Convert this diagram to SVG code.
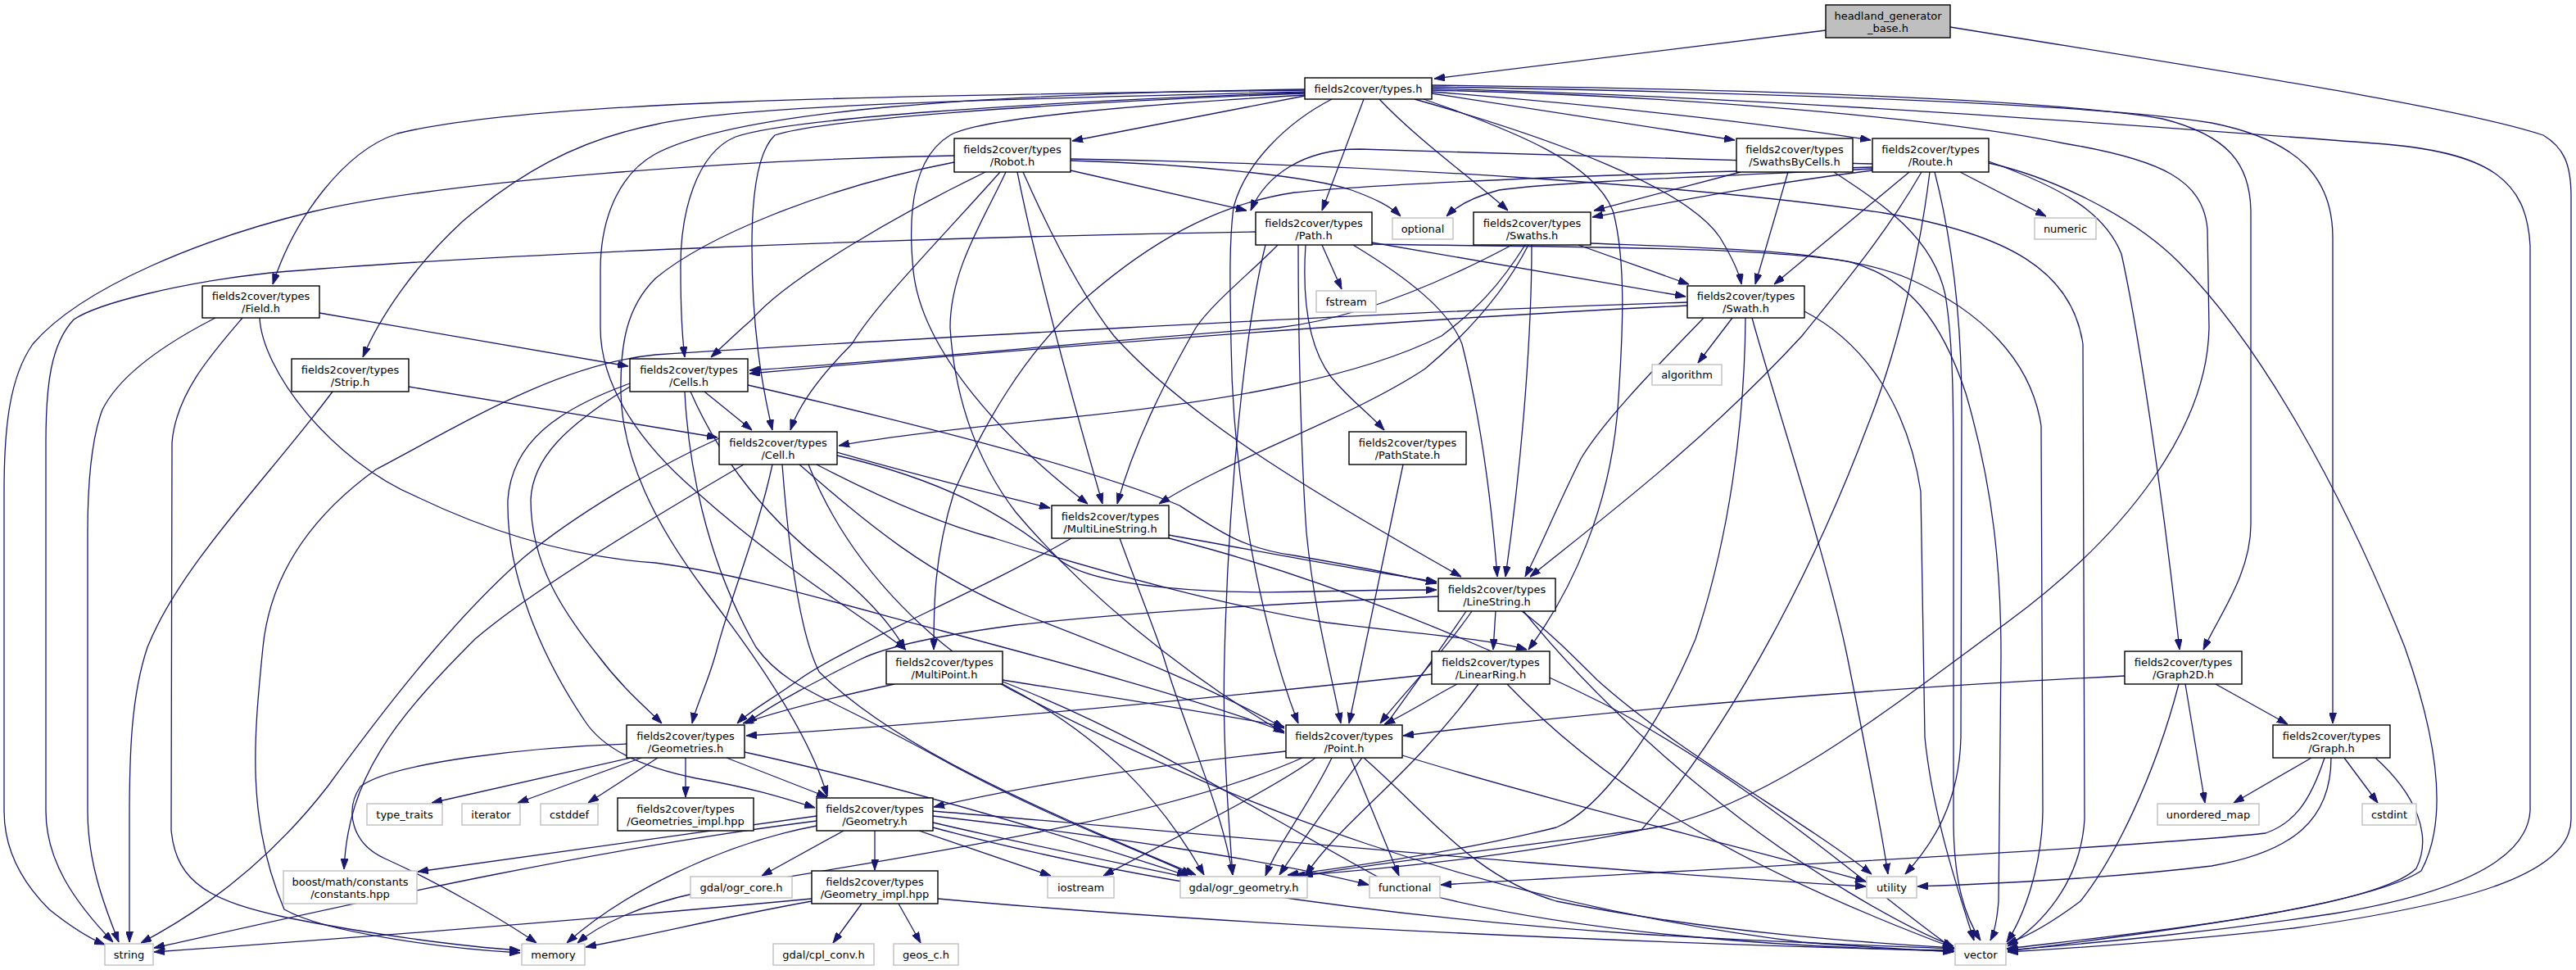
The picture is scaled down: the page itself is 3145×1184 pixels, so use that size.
<svg xmlns="http://www.w3.org/2000/svg" width="3145" height="1184" viewBox="0 0 3145 1184">
<defs>
<marker id="a" markerWidth="13" markerHeight="9" refX="13" refY="4.5" orient="auto" markerUnits="userSpaceOnUse"><path d="M0,0 L13,4.5 L0,9 z" fill="#191970" stroke="#191970" stroke-width="1"/></marker>
<style>
.n rect{fill:#ffffff;stroke:#000000;stroke-width:1.4}
.x rect{fill:#ffffff;stroke:#bfbfbf;stroke-width:1.4}
.h rect{fill:#bfbfbf;stroke:#000000;stroke-width:1.4}
text{font-family:"DejaVu Sans","Liberation Sans",sans-serif;font-size:13px;fill:#000000;text-anchor:middle}
#edges path{fill:none;stroke:#191970;stroke-width:1.3;marker-end:url(#a)}
</style>
</defs>
<rect width="3145" height="1184" fill="#ffffff"/>
<g id="edges">
<path d="M2229,37 L1751,96"/>
<path d="M2381,33 C2700,85 3000,130 3105,165 C3130,180 3139,200 3139,240 L3139,1000 C3139,1070 3000,1105 2800,1133 C2650,1150 2520,1158 2451,1162"/>
<path d="M1593,110 C1100,117 650,122 485,163 C420,185 360,265 333,347"/>
<path d="M1593,112 C1250,120 900,128 800,152 C700,172 630,215 565,270 C505,325 462,390 443,436"/>
<path d="M1593,113 C1250,125 960,145 898,167 C850,187 830,260 831,330 C831,385 833,412 836,436"/>
<path d="M1593,114 C1250,127 1000,147 946,165 C925,185 918,240 918,300 C918,400 930,470 943,525"/>
<path d="M1593,116 C1350,130 1190,147 1160,165 C1115,192 1108,260 1115,330 C1125,430 1230,540 1328,615"/>
<path d="M1593,109 C1200,114 900,135 800,188 C760,210 733,260 733,330 L733,400 C733,470 780,540 850,600 C950,690 1050,750 1106,793"/>
<path d="M1593,117 L1309,172"/>
<path d="M1665,121 L1614,257"/>
<path d="M1626,121 C1570,150 1520,200 1506,253 C1500,300 1502,360 1503,420 C1505,600 1545,780 1585,883"/>
<path d="M1684,121 C1730,170 1800,220 1841,257"/>
<path d="M1727,121 C1900,170 2060,230 2100,290 C2118,320 2124,335 2126,347"/>
<path d="M1738,121 C1850,160 1950,200 1970,260 C1985,320 1982,400 1975,500 C1965,620 1920,720 1866,793"/>
<path d="M1748,114 L2118,171"/>
<path d="M1748,112 C1950,128 2150,150 2284,171"/>
<path d="M1748,104 C2100,108 2500,120 2640,145 C2720,165 2748,200 2748,260 L2748,640 C2748,700 2710,750 2690,793"/>
<path d="M1748,106 C2100,112 2550,125 2700,150 C2810,172 2848,220 2848,290 L2848,883"/>
<path d="M1748,108 C2200,120 2700,160 2900,175 C3040,185 3085,220 3089,300 L3089,990 C3085,1050 3000,1090 2850,1115 C2650,1145 2500,1155 2451,1160"/>
<path d="M1748,110 C2100,118 2400,150 2520,175 C2640,195 2690,220 2695,280 L2697,400 C2695,520 2600,650 2450,760 C2300,870 2150,990 2010,1012 C1800,1040 1650,1058 1590,1069"/>
<path d="M1307,208 L1522,257"/>
<path d="M1307,196 C1450,200 1600,215 1650,232 C1680,243 1698,252 1710,264"/>
<path d="M1203,210 C1100,260 960,340 918,390 C895,410 880,425 868,436"/>
<path d="M1221,210 C1150,290 1070,370 1040,420 C1000,460 975,495 965,525"/>
<path d="M1242,210 C1260,300 1290,420 1346,615"/>
<path d="M1249,210 C1280,280 1320,360 1360,410 C1450,510 1600,600 1784,704"/>
<path d="M1228,210 C1200,270 1160,330 1160,400 C1165,480 1190,560 1240,625 C1320,720 1440,820 1568,895"/>
<path d="M1165,190 C900,195 550,220 383,258 C250,290 100,350 40,420 C12,460 5,520 5,600 L5,990 C5,1040 30,1080 60,1110 C85,1130 108,1145 128,1153"/>
<path d="M1307,194 C1700,200 2100,230 2300,260 C2450,285 2530,330 2543,420 L2545,1000 C2540,1080 2490,1130 2451,1155"/>
<path d="M1165,198 C1000,230 860,290 800,340 C765,375 757,420 758,480 C760,560 800,640 860,720 C930,810 990,900 1010,972"/>
<path d="M2125,210 L1946,257"/>
<path d="M2183,210 L2143,347"/>
<path d="M2239,210 C2300,250 2360,290 2375,360 C2385,420 2385,500 2385,600 L2385,1000 C2385,1080 2400,1120 2418,1148"/>
<path d="M2286,208 C2150,225 2050,245 1944,265"/>
<path d="M2286,206 C2100,215 1900,222 1830,232 C1800,240 1780,250 1766,264"/>
<path d="M2286,204 C2000,212 1700,222 1580,235 C1480,250 1400,300 1330,360 C1250,430 1200,520 1165,600 C1140,680 1140,740 1140,793"/>
<path d="M2286,200 C2050,195 1800,185 1660,182 C1590,182 1545,215 1527,257"/>
<path d="M2331,210 L2166,347"/>
<path d="M2346,210 C2300,290 2240,360 2200,410 C2080,540 1960,630 1868,704"/>
<path d="M2356,210 C2345,300 2320,420 2280,520 C2220,680 2120,880 2004,1013 C1850,1045 1700,1060 1580,1069"/>
<path d="M2428,197 C2520,230 2570,260 2590,310 C2610,400 2640,600 2661,793"/>
<path d="M2393,210 L2498,264"/>
<path d="M2362,210 C2385,300 2395,400 2395,500 L2394,900 C2392,980 2360,1030 2326,1067"/>
<path d="M2428,199 C2500,215 2600,260 2660,320 C2760,420 2860,600 2936,790 C2975,900 2990,1000 2956,1063 C2900,1100 2700,1130 2451,1161"/>
<path d="M1675,296 L2058,362"/>
<path d="M1675,298 C1900,302 2150,300 2260,320 C2330,340 2370,390 2400,480 C2435,600 2443,700 2443,800 L2440,1100 C2438,1125 2434,1140 2430,1148"/>
<path d="M1594,299 C1590,360 1595,420 1625,460 C1650,490 1672,505 1690,525"/>
<path d="M1560,299 C1530,330 1480,370 1460,400 C1420,470 1385,540 1364,615"/>
<path d="M1585,299 C1585,400 1588,550 1595,650 C1605,750 1625,820 1637,883"/>
<path d="M1652,299 C1720,340 1770,380 1785,420 C1805,500 1820,600 1828,704"/>
<path d="M1614,299 L1638,353"/>
<path d="M1533,283 C1100,290 600,310 330,333 C220,345 120,370 90,390 C62,420 56,470 56,540 L56,990 C56,1050 90,1100 138,1150"/>
<path d="M1545,299 C1520,400 1500,600 1495,800 C1492,900 1500,1000 1505,1068"/>
<path d="M1927,299 L2062,347"/>
<path d="M1846,299 C1750,350 1650,390 1560,400 C1300,420 1100,440 915,452"/>
<path d="M1862,299 C1830,350 1800,380 1760,410 C1660,460 1500,490 1300,510 C1150,525 1070,535 1024,544"/>
<path d="M1866,299 C1840,350 1800,400 1740,450 C1650,510 1500,560 1415,615"/>
<path d="M1870,299 C1870,400 1860,550 1838,704"/>
<path d="M1942,297 C2100,303 2250,305 2330,340 C2420,380 2480,440 2492,520 L2494,990 C2493,1060 2470,1120 2450,1150"/>
<path d="M2060,373 C1700,390 1200,430 915,456"/>
<path d="M2060,369 C1700,380 1000,420 800,433 C680,445 560,520 459,573 C380,630 330,700 321,790 C310,900 300,1000 347,1110 C400,1140 550,1158 635,1163"/>
<path d="M2080,388 C2030,440 1960,510 1930,560 C1900,620 1880,670 1862,704"/>
<path d="M2115,388 L2073,443"/>
<path d="M2131,388 C2130,520 2110,660 2070,780 C2020,900 1950,990 1900,1010 C1780,1040 1650,1058 1572,1068"/>
<path d="M2139,388 C2170,500 2230,680 2255,800 C2275,900 2295,1000 2305,1067"/>
<path d="M2203,380 C2280,420 2330,500 2345,600 L2350,900 C2360,1000 2395,1100 2410,1148"/>
<path d="M860,478 L918,525"/>
<path d="M913,470 C1130,520 1340,575 1440,617 C1490,650 1520,670 1580,678 C1650,690 1700,700 1754,712"/>
<path d="M769,472 C690,520 650,560 648,610 C648,690 690,750 730,800 C760,840 790,865 808,883"/>
<path d="M769,468 C680,500 625,540 620,610 C618,700 660,800 714,880 C740,920 800,940 850,950 C920,962 960,975 995,986"/>
<path d="M843,478 C870,540 920,620 1010,690 C1060,730 1090,765 1105,793"/>
<path d="M836,478 C840,560 860,680 923,790 C960,840 1000,845 1137,920 C1280,1000 1400,1040 1455,1068"/>
<path d="M1022,552 C1120,580 1200,600 1282,620"/>
<path d="M1022,556 C1150,585 1230,630 1290,680 C1330,720 1500,725 1600,722 C1680,720 1720,720 1754,720"/>
<path d="M997,567 C1080,610 1150,640 1214,657 C1350,700 1500,740 1620,760 C1740,775 1820,780 1864,793"/>
<path d="M976,567 C1060,640 1130,700 1250,750 C1380,800 1480,840 1568,889"/>
<path d="M943,567 C925,650 895,720 876,790 C866,830 850,860 845,883"/>
<path d="M878,535 C800,570 700,630 640,680 C560,750 480,850 400,960 C330,1050 250,1110 172,1151"/>
<path d="M908,567 C800,630 650,720 580,780 C480,880 425,950 420,1061"/>
<path d="M955,567 C965,700 980,780 1000,820 C1100,920 1300,1000 1460,1068"/>
<path d="M987,567 C1040,700 1150,800 1250,850 C1500,980 1800,1100 2200,1150 C2300,1158 2360,1160 2385,1162"/>
<path d="M499,472 L876,534"/>
<path d="M406,478 C330,580 220,690 180,790 C160,850 158,920 158,1000 L158,1150"/>
<path d="M390,382 C550,410 680,432 767,447"/>
<path d="M263,388 C220,410 150,450 125,500 C110,540 107,600 107,650 L107,990 C107,1050 125,1100 145,1150"/>
<path d="M296,388 C260,430 215,480 210,540 L209,1013 C215,1080 260,1100 350,1120 C450,1140 560,1155 635,1160"/>
<path d="M317,388 C320,450 400,560 510,607 C600,650 700,680 800,687 C900,700 1000,730 1150,770 C1300,810 1450,850 1568,893"/>
<path d="M1713,567 L1647,883"/>
<path d="M1427,653 C1550,675 1650,695 1754,710"/>
<path d="M1427,657 C1600,700 1800,780 1960,860 C2150,960 2300,1100 2385,1158"/>
<path d="M1308,657 C1200,720 1030,790 975,830 C940,855 915,868 900,883"/>
<path d="M1367,657 C1390,720 1410,770 1420,800 C1450,900 1490,980 1505,1068"/>
<path d="M1826,746 L1823,793"/>
<path d="M1797,746 C1760,800 1710,850 1685,883"/>
<path d="M1756,728 C1600,735 1400,745 1240,763 C1150,775 1080,790 1050,805 C1000,830 950,855 911,883"/>
<path d="M1790,746 C1720,850 1620,980 1562,1068"/>
<path d="M1858,746 C1890,770 1920,800 1950,830 C2050,920 2200,1000 2285,1067"/>
<path d="M1860,746 C1920,820 2000,900 2100,980 C2200,1060 2320,1130 2385,1155"/>
<path d="M1779,835 C1750,850 1720,870 1690,884"/>
<path d="M1748,823 C1500,850 1200,880 911,898"/>
<path d="M1805,835 C1720,950 1640,1000 1594,1068"/>
<path d="M1840,835 C1950,950 2100,1050 2385,1157"/>
<path d="M1092,835 C1000,855 950,868 907,883"/>
<path d="M1224,830 C1350,850 1480,870 1568,887"/>
<path d="M1224,835 C1350,900 1420,980 1470,1068"/>
<path d="M1224,832 C1400,900 1550,1000 1700,1080 C1900,1140 2200,1158 2385,1160"/>
<path d="M770,925 L527,980"/>
<path d="M783,925 L632,980"/>
<path d="M803,925 L718,980"/>
<path d="M837,925 L837,973"/>
<path d="M887,925 L1010,973"/>
<path d="M765,908 C650,912 480,930 440,960 C420,990 430,1030 470,1048 C530,1075 610,1120 655,1151"/>
<path d="M909,918 C1100,960 1300,1020 1450,1069"/>
<path d="M1030,1014 L930,1069"/>
<path d="M1068,1014 L1068,1062"/>
<path d="M1122,1014 L1283,1069"/>
<path d="M1139,1004 C1250,1030 1350,1050 1455,1072"/>
<path d="M1139,996 C1350,1020 1550,1050 1671,1080"/>
<path d="M1139,990 C1500,1020 1900,1060 2278,1082"/>
<path d="M1139,1010 C1400,1080 1700,1120 2000,1140 C2200,1152 2320,1155 2386,1158"/>
<path d="M997,996 C900,1010 750,1030 510,1064"/>
<path d="M997,1002 C700,1040 400,1110 188,1157"/>
<path d="M997,1008 C880,1030 760,1090 692,1151"/>
<path d="M1052,1103 L1017,1151"/>
<path d="M1097,1103 L1124,1151"/>
<path d="M991,1097 C800,1115 500,1140 188,1162"/>
<path d="M991,1100 C880,1120 800,1140 715,1156"/>
<path d="M1145,1097 C1400,1120 1800,1145 2386,1161"/>
<path d="M1570,917 C1400,935 1250,960 1140,985"/>
<path d="M1606,925 C1560,960 1420,1030 1347,1069"/>
<path d="M1626,925 C1600,980 1560,1030 1545,1069"/>
<path d="M1649,925 L1708,1069"/>
<path d="M1712,922 C1900,980 2150,1040 2278,1076"/>
<path d="M1665,925 C1750,1000 1800,1070 1900,1100 C2100,1140 2300,1152 2386,1157"/>
<path d="M1590,925 C1400,1010 1000,1060 850,1090 C780,1105 730,1130 705,1151"/>
<path d="M2594,825 C2200,845 1900,875 1713,898"/>
<path d="M2705,835 L2793,884"/>
<path d="M2668,835 L2692,980"/>
<path d="M2660,835 C2630,950 2580,1050 2540,1100 C2500,1130 2470,1145 2450,1152"/>
<path d="M2822,925 L2727,980"/>
<path d="M2862,925 L2903,980"/>
<path d="M2838,925 C2820,980 2800,1005 2766,1017 C2600,1035 2100,1060 1759,1080"/>
<path d="M2846,925 C2846,1000 2800,1040 2700,1057 C2550,1075 2400,1080 2341,1082"/>
<path d="M2900,925 C2950,970 2970,1020 2950,1060 C2900,1110 2600,1140 2450,1158"/>
</g>
<g id="node-headland" class="h"><rect x="2229" y="6" width="152" height="40"/><text x="2305" y="23.5">headland_generator</text><text x="2305" y="38.5">_base.h</text></g>
<g id="node-types" class="n"><rect x="1593" y="95" width="155" height="26"/><text x="1670.5" y="112.5">fields2cover/types.h</text></g>
<g id="node-robot" class="n"><rect x="1165" y="169" width="142" height="41"/><text x="1236" y="186.5">fields2cover/types</text><text x="1236" y="201.5">/Robot.h</text></g>
<g id="node-swathsbycells" class="n"><rect x="2120" y="169" width="142" height="41"/><text x="2191" y="186.5">fields2cover/types</text><text x="2191" y="201.5">/SwathsByCells.h</text></g>
<g id="node-route" class="n"><rect x="2286" y="169" width="142" height="41"/><text x="2357" y="186.5">fields2cover/types</text><text x="2357" y="201.5">/Route.h</text></g>
<g id="node-path" class="n"><rect x="1533" y="259" width="142" height="40"/><text x="1604" y="276.5">fields2cover/types</text><text x="1604" y="291.5">/Path.h</text></g>
<g id="node-optional" class="x"><rect x="1700" y="266" width="74" height="26"/><text x="1737" y="283.5">optional</text></g>
<g id="node-swaths" class="n"><rect x="1799" y="259" width="143" height="40"/><text x="1870.5" y="276.5">fields2cover/types</text><text x="1870.5" y="291.5">/Swaths.h</text></g>
<g id="node-numeric" class="x"><rect x="2484" y="266" width="75" height="26"/><text x="2521.5" y="283.5">numeric</text></g>
<g id="node-field" class="n"><rect x="247" y="349" width="143" height="39"/><text x="318.5" y="366">fields2cover/types</text><text x="318.5" y="381">/Field.h</text></g>
<g id="node-fstream" class="x"><rect x="1607" y="355" width="73" height="26"/><text x="1643.5" y="372.5">fstream</text></g>
<g id="node-swath" class="n"><rect x="2060" y="349" width="143" height="39"/><text x="2131.5" y="366">fields2cover/types</text><text x="2131.5" y="381">/Swath.h</text></g>
<g id="node-strip" class="n"><rect x="356" y="438" width="143" height="40"/><text x="427.5" y="455.5">fields2cover/types</text><text x="427.5" y="470.5">/Strip.h</text></g>
<g id="node-cells" class="n"><rect x="769" y="438" width="144" height="40"/><text x="841" y="455.5">fields2cover/types</text><text x="841" y="470.5">/Cells.h</text></g>
<g id="node-algorithm" class="x"><rect x="2017" y="445" width="85" height="25"/><text x="2059.5" y="462">algorithm</text></g>
<g id="node-cell" class="n"><rect x="878" y="527" width="144" height="40"/><text x="950" y="544.5">fields2cover/types</text><text x="950" y="559.5">/Cell.h</text></g>
<g id="node-pathstate" class="n"><rect x="1647" y="527" width="143" height="40"/><text x="1718.5" y="544.5">fields2cover/types</text><text x="1718.5" y="559.5">/PathState.h</text></g>
<g id="node-multilinestring" class="n"><rect x="1284" y="617" width="143" height="40"/><text x="1355.5" y="634.5">fields2cover/types</text><text x="1355.5" y="649.5">/MultiLineString.h</text></g>
<g id="node-linestring" class="n"><rect x="1756" y="706" width="143" height="40"/><text x="1827.5" y="723.5">fields2cover/types</text><text x="1827.5" y="738.5">/LineString.h</text></g>
<g id="node-multipoint" class="n"><rect x="1082" y="795" width="142" height="40"/><text x="1153" y="812.5">fields2cover/types</text><text x="1153" y="827.5">/MultiPoint.h</text></g>
<g id="node-linearring" class="n"><rect x="1748" y="795" width="144" height="40"/><text x="1820" y="812.5">fields2cover/types</text><text x="1820" y="827.5">/LinearRing.h</text></g>
<g id="node-graph2d" class="n"><rect x="2594" y="795" width="143" height="40"/><text x="2665.5" y="812.5">fields2cover/types</text><text x="2665.5" y="827.5">/Graph2D.h</text></g>
<g id="node-geometries" class="n"><rect x="765" y="885" width="144" height="40"/><text x="837" y="902.5">fields2cover/types</text><text x="837" y="917.5">/Geometries.h</text></g>
<g id="node-point" class="n"><rect x="1570" y="885" width="142" height="40"/><text x="1641" y="902.5">fields2cover/types</text><text x="1641" y="917.5">/Point.h</text></g>
<g id="node-graph" class="n"><rect x="2775" y="885" width="143" height="40"/><text x="2846.5" y="902.5">fields2cover/types</text><text x="2846.5" y="917.5">/Graph.h</text></g>
<g id="node-type_traits" class="x"><rect x="448" y="981" width="92" height="26"/><text x="494" y="998.5">type_traits</text></g>
<g id="node-iterator" class="x"><rect x="564" y="981" width="71" height="26"/><text x="599.5" y="998.5">iterator</text></g>
<g id="node-cstddef" class="x"><rect x="660" y="981" width="70" height="26"/><text x="695" y="998.5">cstddef</text></g>
<g id="node-geometries_impl" class="n"><rect x="754" y="974" width="166" height="40"/><text x="837" y="991.5">fields2cover/types</text><text x="837" y="1006.5">/Geometries_impl.hpp</text></g>
<g id="node-geometry" class="n"><rect x="997" y="974" width="142" height="40"/><text x="1068" y="991.5">fields2cover/types</text><text x="1068" y="1006.5">/Geometry.h</text></g>
<g id="node-unordered_map" class="x"><rect x="2634" y="981" width="124" height="26"/><text x="2696" y="998.5">unordered_map</text></g>
<g id="node-cstdint" class="x"><rect x="2884" y="981" width="66" height="26"/><text x="2917" y="998.5">cstdint</text></g>
<g id="node-boost" class="x"><rect x="346" y="1063" width="163" height="40"/><text x="427.5" y="1080.5">boost/math/constants</text><text x="427.5" y="1095.5">/constants.hpp</text></g>
<g id="node-ogr_core" class="x"><rect x="843" y="1070" width="124" height="26"/><text x="905" y="1087.5">gdal/ogr_core.h</text></g>
<g id="node-geometry_impl" class="n"><rect x="991" y="1063" width="154" height="40"/><text x="1068" y="1080.5">fields2cover/types</text><text x="1068" y="1095.5">/Geometry_impl.hpp</text></g>
<g id="node-iostream" class="x"><rect x="1279" y="1070" width="81" height="26"/><text x="1319.5" y="1087.5">iostream</text></g>
<g id="node-ogr_geometry" class="x"><rect x="1441" y="1070" width="155" height="26"/><text x="1518.5" y="1087.5">gdal/ogr_geometry.h</text></g>
<g id="node-functional" class="x"><rect x="1672" y="1070" width="86" height="26"/><text x="1715" y="1087.5">functional</text></g>
<g id="node-utility" class="x"><rect x="2279" y="1070" width="61" height="26"/><text x="2309.5" y="1087.5">utility</text></g>
<g id="node-string" class="x"><rect x="128" y="1152" width="59" height="26"/><text x="157.5" y="1169.5">string</text></g>
<g id="node-memory" class="x"><rect x="637" y="1152" width="77" height="26"/><text x="675.5" y="1169.5">memory</text></g>
<g id="node-cpl_conv" class="x"><rect x="944" y="1152" width="123" height="26"/><text x="1005.5" y="1169.5">gdal/cpl_conv.h</text></g>
<g id="node-geos_c" class="x"><rect x="1091" y="1152" width="79" height="26"/><text x="1130.5" y="1169.5">geos_c.h</text></g>
<g id="node-vector" class="x"><rect x="2387" y="1152" width="62" height="26"/><text x="2418" y="1169.5">vector</text></g>
</svg>
